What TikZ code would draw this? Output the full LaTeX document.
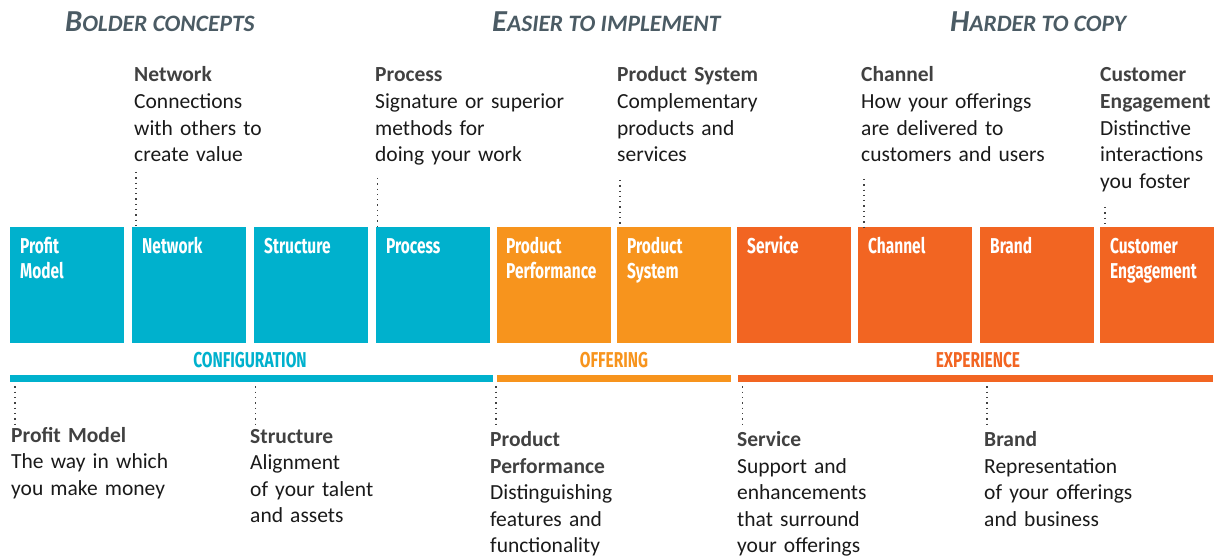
\documentclass[tikz,border=0pt]{standalone}
\usepackage{fontspec}
\setmainfont{Carlito}
\newfontfamily\condfont[FakeStretch=0.72]{Fira Sans}
\definecolor{cteal}{HTML}{00B1CD}
\definecolor{corange}{HTML}{F7941D}
\definecolor{cred}{HTML}{F26522}
\definecolor{tgray}{HTML}{414141}
\definecolor{tblack}{HTML}{1A1A1A}
\definecolor{hgray}{HTML}{4B5B64}
\newcommand{\tit}[1]{{\bfseries\color{tgray}#1}}
\newcommand{\hsc}[2]{{\fontsize{30.5}{30.5}\selectfont #1}{\fontsize{23.5}{23.5}\selectfont #2}}
\tikzset{
  box/.style={draw=none, minimum width=114pt, minimum height=116pt, anchor=north west, inner sep=0pt},
  boxtxt/.style={anchor=base west, inner sep=0pt, text=white, align=left, text width=110pt,
    font=\condfont\bfseries\fontsize{21.5}{25}\selectfont},
  bar/.style={draw=none, minimum height=7pt, anchor=north west, inner sep=0pt},
  cat/.style={inner sep=0pt, font=\condfont\bfseries\fontsize{21.5}{21.5}\selectfont},
  desc/.style={anchor=base west, inner sep=0pt, align=left, text width=260pt, text=tblack,
    font=\fontsize{21.5}{26.6}\selectfont},
  head/.style={anchor=base west, inner sep=0pt, text=hgray, font=\bfseries\itshape},
  dots/.style={draw=tgray, line width=1.3pt, dash pattern=on 1.3pt off 4pt}
}
\begin{document}
\begin{tikzpicture}[x=1pt,y=-1pt]
\useasboundingbox (0,0) rectangle (1221,556);
% headings
\node[head] (h1) at (65,32) {\hsc{B}{OLDER CONCEPTS}};
\node[head] (h2) at (492,32) {\hsc{E}{ASIER TO IMPLEMENT}};
\node[head] (h3) at (950,32) {\hsc{H}{ARDER TO COPY}};
% boxes
\node[box, fill=cteal]   (b1)  at (9.5,227) {};
\node[box, fill=cteal]   (b2)  at (132,227) {};
\node[box, fill=cteal]   (b3)  at (254,227) {};
\node[box, fill=cteal]   (b4)  at (376,227) {};
\node[box, fill=corange] (b5)  at (497,227) {};
\node[box, fill=corange] (b6)  at (617,227) {};
\node[box, fill=cred]    (b7)  at (737,227) {};
\node[box, fill=cred]    (b8)  at (858,227) {};
\node[box, fill=cred]    (b9)  at (980,227) {};
\node[box, fill=cred]    (b10) at (1100,227) {};
% box texts
\node[boxtxt] (t1)  at (20,254)   {Profit\\Model};
\node[boxtxt] (t2)  at (142,254)  {Network};
\node[boxtxt] (t3)  at (264,254)  {Structure};
\node[boxtxt] (t4)  at (386,254)  {Process};
\node[boxtxt] (t5)  at (506,254)  {Product\\Performance};
\node[boxtxt] (t6)  at (627,254)  {Product\\System};
\node[boxtxt] (t7)  at (747,254)  {Service};
\node[boxtxt] (t8)  at (868,254)  {Channel};
\node[boxtxt] (t9)  at (990,254)  {Brand};
\node[boxtxt] (t10) at (1110,254) {Customer\\Engagement};
% category labels and bars
\node[cat, text=cteal]   (cC) at (250,360) {CONFIGURATION};
\node[cat, text=corange] (cO) at (614,360) {OFFERING};
\node[cat, text=cred]    (cE) at (978,360) {EXPERIENCE};
\node[bar, fill=cteal,   minimum width=483.5pt] (barC) at (9.5,375) {};
\node[bar, fill=corange, minimum width=234pt]   (barO) at (497,375) {};
\node[bar, fill=cred,    minimum width=475pt]   (barE) at (738,375) {};
% top descriptions
\node[desc] (dNet)  at (134,82)  {\tit{Network}\\Connections\\with others to\\create value};
\node[desc] (dProc) at (375,82)  {\tit{Process}\\Signature or superior\\methods for\\doing your work};
\node[desc] (dPS)   at (617,82)  {\tit{Product System}\\Complementary\\products and\\services};
\node[desc] (dCh)   at (861,82)  {\tit{Channel}\\How your offerings\\are delivered to\\customers and users};
\node[desc] (dCE)   at (1100,82) {\tit{Customer}\\\tit{Engagement}\\Distinctive\\interactions\\you foster};
% bottom descriptions
\node[desc] (dPM)   at (11,442)  {\tit{Profit Model}\\The way in which\\you make money};
\node[desc] (dSt)   at (250,443) {\tit{Structure}\\Alignment\\of your talent\\and assets};
\node[desc] (dPP)   at (490,446.5) {\tit{Product}\\\tit{Performance}\\Distinguishing\\features and\\functionality};
\node[desc] (dSe)   at (737,446.5) {\tit{Service}\\Support and\\enhancements\\that surround\\your offerings};
\node[desc] (dBr)   at (984,446.5) {\tit{Brand}\\Representation\\of your offerings\\and business};
% dotted connectors (top)
\coordinate (pNet)  at (136,172);
\coordinate (pProc) at (377.5,178);
\coordinate (pPS)   at (620,180);
\coordinate (pCh)   at (864,179);
\coordinate (pCE)   at (1105,207);
\draw[dots] (pNet)  -- (pNet  |- b2.north);
\draw[dots] (pProc) -- (pProc |- b4.north);
\draw[dots] (pPS)   -- (pPS   |- b6.north);
\draw[dots] (pCh)   -- (pCh   |- b8.north);
\draw[dots] (pCE)   -- (pCE   |- b10.north);
% dotted connectors (bottom)
\coordinate (qPM) at (15,425);
\coordinate (qSt) at (255.5,425);
\coordinate (qPP) at (496,428);
\coordinate (qSe) at (742.5,425);
\coordinate (qBr) at (987,428);
\draw[dots] (qPM |- barC.south) ++(0,4) -- (qPM);
\draw[dots] (qSt |- barC.south) ++(0,4) -- (qSt);
\draw[dots] (qPP |- barO.south) ++(0,4) -- (qPP);
\draw[dots] (qSe |- barE.south) ++(0,4) -- (qSe);
\draw[dots] (qBr |- barE.south) ++(0,4) -- (qBr);
\end{tikzpicture}
\end{document}
